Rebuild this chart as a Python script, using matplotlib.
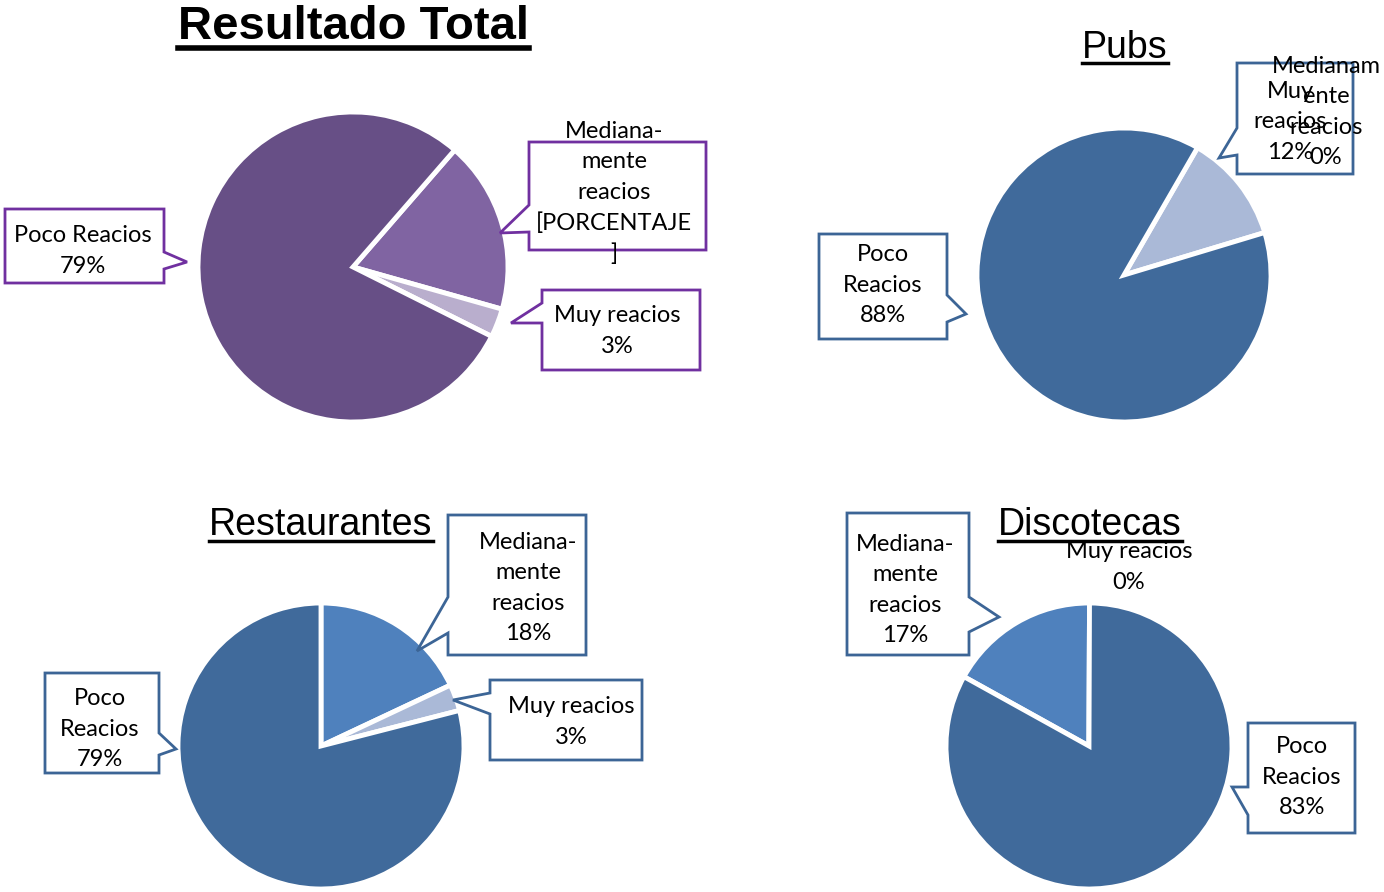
import matplotlib.pyplot as plt
from matplotlib.patches import Polygon
from matplotlib.lines import Line2D

# -----------------------------
# Data (order: Medianamente, Muy, Poco)
# -----------------------------
categories = ["Medianamente reacios", "Muy reacios", "Poco Reacios"]
total_vals = [18, 3, 79]
pubs_vals = [0, 12, 88]
rest_vals = [18, 3, 79]
disco_vals = [17, 0, 83]

titles = ["Resultado Total", "Pubs", "Restaurantes", "Discotecas"]

W, H = 1384, 892
PURPLE = ["#8064a2", "#b9aecd", "#674f86"]
BLUE = ["#4f81bd", "#aab9d7", "#406a9b"]
PURPLE_EDGE = "#7030a0"
BLUE_EDGE = "#3c6596"
LABEL_FONT = "Lato"

fig = plt.figure(figsize=(W / 100, H / 100), dpi=100, facecolor="white")
ax = fig.add_axes([0, 0, 1, 1])


def Y(y):
    return H - y


def draw_pie(vals, colors, center, radius, start):
    ax.pie(vals, colors=colors, startangle=start, counterclock=False,
           center=(center[0], Y(center[1])), radius=radius,
           wedgeprops=dict(edgecolor="white", linewidth=3.5))


def callout(box, p1, tip, p2, side, color):
    x0, y0, x1, y1 = box
    if side == "right":
        pts = [(x0, y0), (x1, y0), (x1, p1), tip, (x1, p2), (x1, y1), (x0, y1)]
    else:
        pts = [(x0, y0), (x1, y0), (x1, y1), (x0, y1), (x0, p2), tip, (x0, p1)]
    pts = [(x, Y(y)) for x, y in pts]
    ax.add_patch(Polygon(pts, closed=True, facecolor="white", edgecolor=color,
                         linewidth=2, zorder=5))


def label(x, y, s):
    ax.text(x, Y(y), s, ha="center", va="center", fontsize=17,
            family=LABEL_FONT, linespacing=1.55, zorder=6)


# -----------------------------
# Pies
# -----------------------------
draw_pie(total_vals, PURPLE, (353, 267), 155, 49)
draw_pie(pubs_vals, BLUE, (1124, 275), 147, 60)
draw_pie(rest_vals, BLUE, (321, 746), 143, 90)
draw_pie(disco_vals, BLUE, (1089, 746), 143, 151)

# -----------------------------
# Callouts
# -----------------------------
# Resultado Total
callout((5, 209, 164, 283), 252, (187, 262), 269, "right", PURPLE_EDGE)
label(83, 251, f"Poco Reacios\n{total_vals[2]}%")
callout((529, 142, 706, 250), 205, (500, 233), 232, "left", PURPLE_EDGE)
label(614, 193, "Mediana-\nmente\nreacios\n[PORCENTAJE\n]")
callout((542, 290, 700, 370), 303, (511, 323), 323, "left", PURPLE_EDGE)
label(617, 331, f"Muy reacios\n{total_vals[1]}%")

# Pubs
callout((819, 234, 947, 339), 295, (966, 314), 322, "right", BLUE_EDGE)
label(883, 285, f"Poco\nReacios\n{pubs_vals[2]}%")
callout((1237, 63, 1353, 174), 128, (1219, 158), 155, "left", BLUE_EDGE)
label(1290, 122, f"Muy\nreacios\n{pubs_vals[1]}%")
label(1326, 112, f"Medianam\nente\nreacios\n{pubs_vals[0]}%")

# Restaurantes
callout((448, 515, 586, 655), 597, (417, 651), 633, "left", BLUE_EDGE)
label(528, 588, f"Mediana-\nmente\nreacios\n{rest_vals[0]}%")
callout((490, 680, 642, 760), 693, (453, 700), 714, "left", BLUE_EDGE)
label(571, 722, f"Muy reacios\n{rest_vals[1]}%")
callout((45, 673, 159, 773), 733, (176, 749), 755, "right", BLUE_EDGE)
label(100, 729, f"Poco\nReacios\n{rest_vals[2]}%")

# Discotecas
callout((847, 513, 969, 655), 597, (999, 617), 632, "right", BLUE_EDGE)
label(905, 590, f"Mediana-\nmente\nreacios\n{disco_vals[0]}%")
label(1129, 567, f"Muy reacios\n{disco_vals[1]}%")
callout((1248, 723, 1355, 833), 787, (1232, 787), 815, "left", BLUE_EDGE)
label(1302, 777, f"Poco\nReacios\n{disco_vals[2]}%")

ax.set_xlim(0, W)
ax.set_ylim(0, H)
ax.set_aspect("equal")
ax.axis("off")

# -----------------------------
# Titles (underlined)
# -----------------------------
title_specs = [
    (titles[0], 353, 39, 34, "bold", 48, 4.0),
    (titles[1], 1125, 58, 27, "normal", 63, 2.5),
    (titles[2], 321, 535, 27, "normal", 541, 2.5),
    (titles[3], 1090, 535, 27, "normal", 541, 2.5),
]
title_artists = []
for s, x, yb, fs, fw, yu, lw in title_specs:
    t = ax.text(x, Y(yb), s, ha="center", va="baseline", fontsize=fs,
                fontweight=fw, family="Liberation Sans", zorder=7)
    title_artists.append((t, yu, lw))

fig.canvas.draw()
inv = ax.transData.inverted()
for t, yu, lw in title_artists:
    bb = t.get_window_extent()
    xa = inv.transform((bb.x0, 0))[0]
    xb = inv.transform((bb.x1, 0))[0]
    ax.add_line(Line2D([xa, xb], [Y(yu), Y(yu)], color="black", linewidth=lw, zorder=7))

fig.savefig("out.png", dpi=100, facecolor="white")
